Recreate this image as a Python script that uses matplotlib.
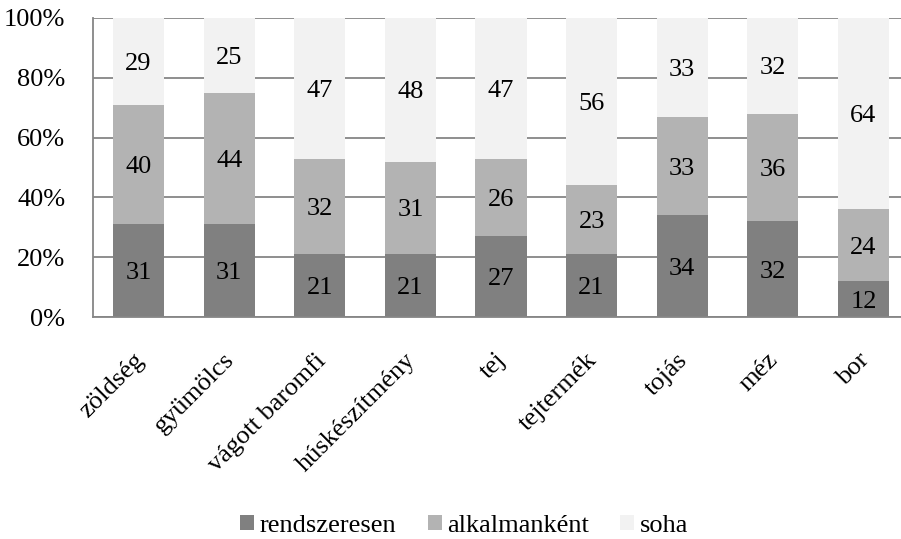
import numpy as np
import matplotlib.pyplot as plt
from matplotlib.transforms import ScaledTranslation

categories = ['zöldség', 'gyümölcs', 'vágott baromfi', 'húskészítmény', 'tej',
              'tejtermék', 'tojás', 'méz', 'bor']
rendszeresen = [31, 31, 21, 21, 27, 21, 34, 32, 12]
alkalmankent = [40, 44, 32, 31, 26, 23, 33, 36, 24]
soha = [29, 25, 47, 48, 47, 56, 33, 32, 64]

series = [('rendszeresen', rendszeresen, '#808080'),
          ('alkalmanként', alkalmankent, '#b3b3b3'),
          ('soha', soha, '#f2f2f2')]

plt.rcParams['font.family'] = ['Liberation Serif', 'DejaVu Serif']

fig = plt.figure(figsize=(9.01, 5.39), dpi=100)
# plot area runs past the right edge, as in the reference
ax = fig.add_axes([93.2 / 901, 1 - 317 / 539, 815.6 / 901, 299 / 539])

x = np.arange(len(categories))
bottom = np.zeros(len(categories))
for name, vals, col in series:
    vals = np.array(vals, dtype=float)
    ax.bar(x, vals, 0.565, bottom=bottom, color=col, label=name, zorder=2)
    for xi, b, v in zip(x, bottom, vals):
        ax.text(xi, b + v / 2, str(int(v)), ha='center', va='center_baseline',
                fontsize=19, zorder=3)
    bottom += vals

ax.set_xlim(-0.5, len(categories) - 0.5)
ax.set_ylim(0, 100)
ax.set_yticks([0, 20, 40, 60, 80, 100])
ax.set_yticklabels(['0%', '20%', '40%', '60%', '80%', '100%'], fontsize=19)
ax.yaxis.grid(True, color='#868686', linewidth=1.3, zorder=0)
ax.tick_params(axis='y', length=0, pad=20)
ax.set_xticks(x)
ax.set_xticklabels(categories, fontsize=19, rotation=45, ha='right',
                   rotation_mode='anchor')
ax.tick_params(axis='x', length=0, pad=23)
shift = ScaledTranslation(-0.06, 0, fig.dpi_scale_trans)
for lab in ax.get_xticklabels():
    lab.set_transform(lab.get_transform() + shift)
for s in ['top', 'right']:
    ax.spines[s].set_visible(False)
for s in ['left', 'bottom']:
    ax.spines[s].set_color('#868686')
    ax.spines[s].set_linewidth(1.3)

fig.legend(loc='center', bbox_to_anchor=(464 / 901, 1 - 526 / 539), ncol=3,
           frameon=False, fontsize=19, handlelength=0.53, handleheight=0.53,
           handletextpad=0.2, columnspacing=1.2)

fig.savefig('out.png', dpi=100)
